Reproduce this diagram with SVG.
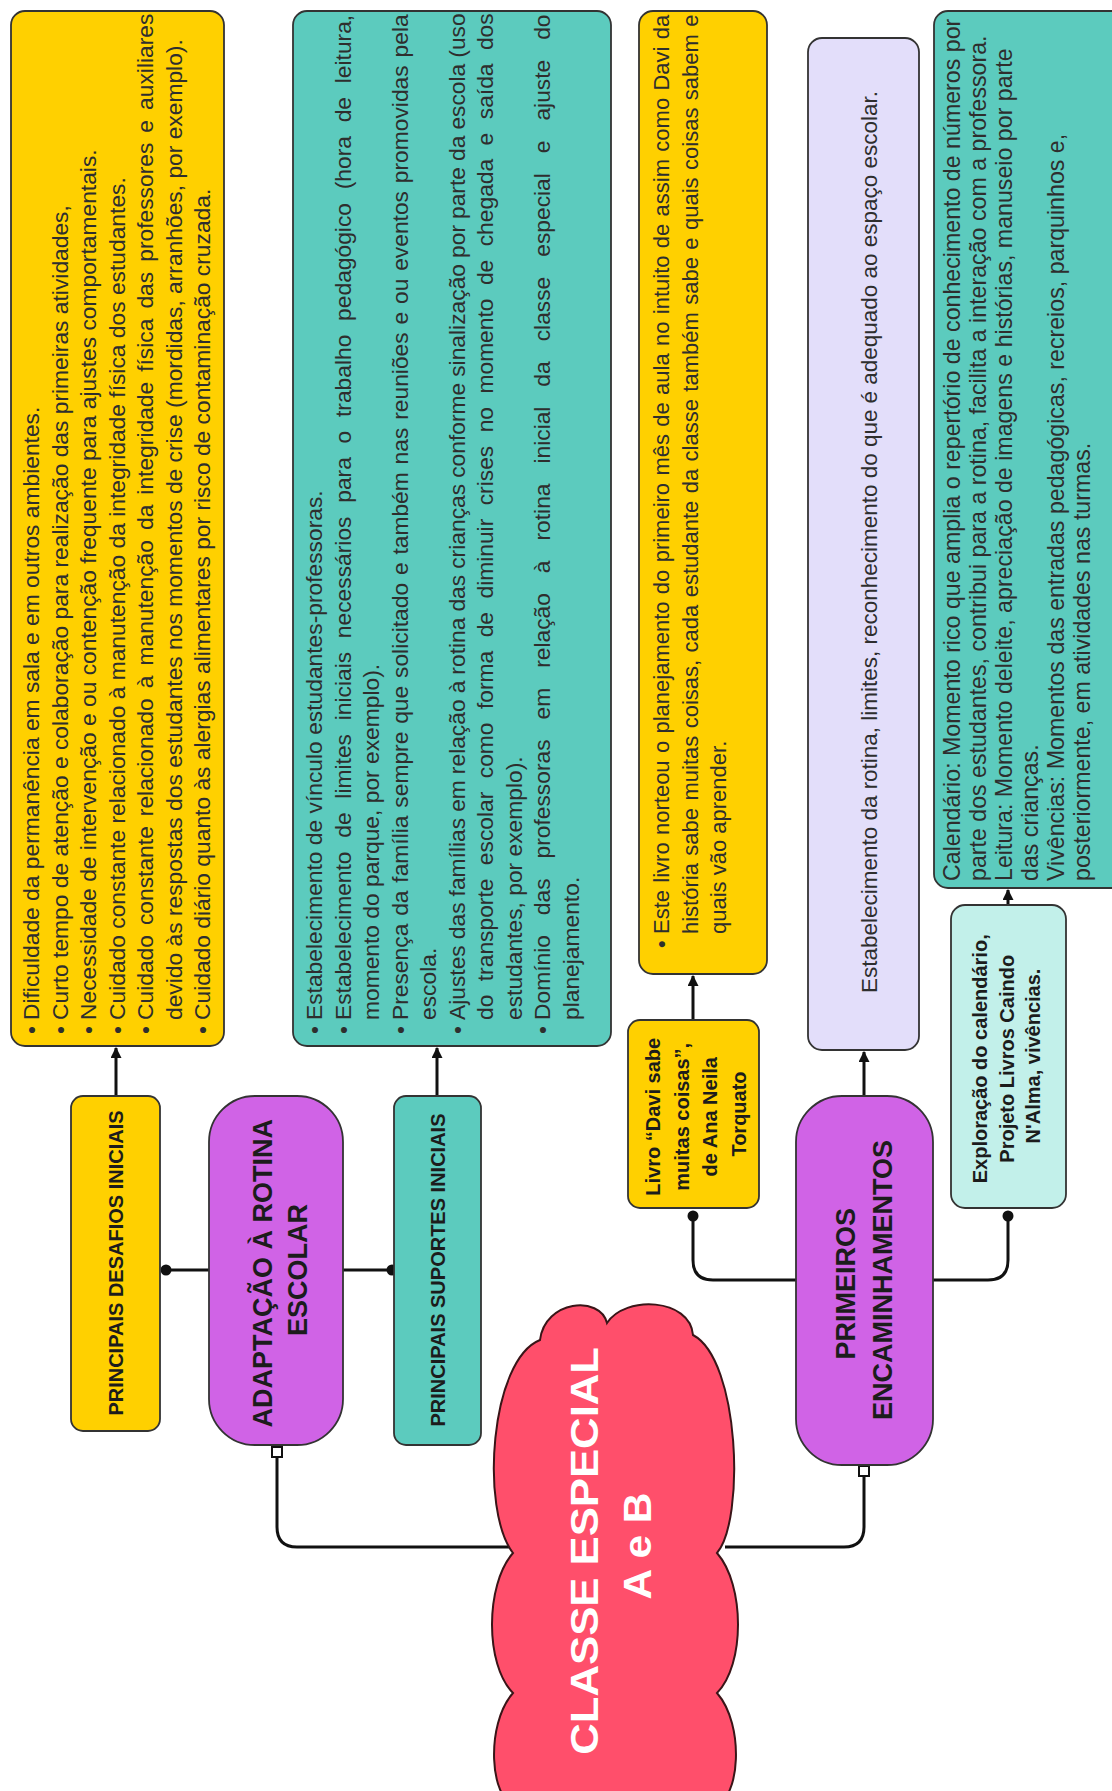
<svg xmlns="http://www.w3.org/2000/svg" width="1112" height="1791" viewBox="0 0 1112 1791">
<defs>
<marker id="arr" viewBox="0 0 10 10" refX="9" refY="5" markerWidth="11" markerHeight="11" markerUnits="userSpaceOnUse" orient="auto"><path d="M0,0 L10,5 L0,10 z" fill="#111"/></marker>
</defs>
<style>
.body{font-family:"Liberation Sans",Arial,sans-serif;font-size:22.8px;fill:#2e2e2e}
.bold{font-family:"Liberation Sans",Arial,sans-serif;font-weight:bold;fill:#1c1c1c}
.box{stroke:#333;stroke-width:1.8}
.yel{fill:#FFD000}
.teal{fill:#5CCBBE}
.lav{fill:#E3DEFA}
.lteal{fill:#C2F0EA}
.purp{fill:#D063E6}
.conn{fill:none;stroke:#111;stroke-width:3}
.dot{fill:#111}
.sq{fill:#fff;stroke:#111;stroke-width:2}
</style>
<rect width="1112" height="1791" fill="#fff"/>

<g id="connectors">
<path class="conn" d="M116,1096 L116,1048" marker-end="url(#arr)"/>
<path class="conn" d="M437,1096 L437,1048" marker-end="url(#arr)"/>
<path class="conn" d="M693,1020 L693,976" marker-end="url(#arr)"/>
<path class="conn" d="M864,1096 L864,1052" marker-end="url(#arr)"/>
<path class="conn" d="M1008,905 L1008,890" marker-end="url(#arr)"/>
<path class="conn" d="M209,1270 L166,1270"/>
<circle class="dot" cx="166" cy="1270" r="5.5"/>
<path class="conn" d="M343,1270 L392,1270"/>
<circle class="dot" cx="392" cy="1270" r="5.5"/>
<path class="conn" d="M510,1547 L297,1547 Q277,1547 277,1527 L277,1457"/>
<rect class="sq" x="272" y="1447" width="10" height="10"/>
<path class="conn" d="M725,1547 L844,1547 Q864,1547 864,1527 L864,1476"/>
<rect class="sq" x="859" y="1466" width="10" height="10"/>
<path class="conn" d="M796,1280 L713,1280 Q693,1280 693,1260 L693,1216"/>
<circle class="dot" cx="693" cy="1216" r="5.5"/>
<path class="conn" d="M933,1280 L988,1280 Q1008,1280 1008,1260 L1008,1216"/>
<circle class="dot" cx="1008" cy="1216" r="5.5"/>
</g>

<g id="desafios-conteudo">
<rect class="box yel" x="11" y="11" width="213" height="1035" rx="14"/>
<text class="body" transform="translate(0,1020) rotate(-90)">
<tspan x="-14" y="39">•</tspan><tspan x="0" y="39">Dificuldade da permanência em sala e em outros ambientes.</tspan>
<tspan x="-14" y="67.5">•</tspan><tspan x="0" y="67.5">Curto tempo de atenção e colaboração para realização das primeiras atividades,</tspan>
<tspan x="-14" y="96">•</tspan><tspan x="0" y="96">Necessidade de intervenção e ou contenção frequente para ajustes comportamentais.</tspan>
<tspan x="-14" y="124.5">•</tspan><tspan x="0" y="124.5">Cuidado constante relacionado à manutenção da integridade física dos estudantes.</tspan>
<tspan x="-14" y="153">•</tspan><tspan x="0" y="153" word-spacing="3.7">Cuidado constante relacionado à manutenção da integridade física das professores e auxiliares</tspan>
<tspan x="0" y="181.5">devido às respostas dos estudantes nos momentos de crise (mordidas, arranhões, por exemplo).</tspan>
<tspan x="-14" y="210">•</tspan><tspan x="0" y="210">Cuidado diário quanto às alergias alimentares por risco de contaminação cruzada.</tspan>
</text>
</g>

<g id="suportes-conteudo">
<rect class="box teal" x="293" y="11" width="318" height="1035" rx="14"/>
<text class="body" transform="translate(0,1020) rotate(-90)">
<tspan x="-14" y="322">•</tspan><tspan x="0" y="322">Estabelecimento de vínculo estudantes-professoras.</tspan>
<tspan x="-14" y="350.5">•</tspan><tspan x="0" y="350.5" word-spacing="7.4">Estabelecimento de limites iniciais necessários para o trabalho pedagógico (hora de leitura,</tspan>
<tspan x="0" y="379">momento do parque, por exemplo).</tspan>
<tspan x="-14" y="407.5">•</tspan><tspan x="0" y="407.5" word-spacing="1.5">Presença da família sempre que solicitado e também nas reuniões e ou eventos promovidas pela</tspan>
<tspan x="0" y="436">escola.</tspan>
<tspan x="-14" y="464.5">•</tspan><tspan x="0" y="464.5" word-spacing="-0.3">Ajustes das famílias em relação à rotina das crianças conforme sinalização por parte da escola (uso</tspan>
<tspan x="0" y="493" word-spacing="7.1">do transporte escolar como forma de diminuir crises no momento de chegada e saída dos</tspan>
<tspan x="0" y="521.5">estudantes, por exemplo).</tspan>
<tspan x="-14" y="550">•</tspan><tspan x="0" y="550" word-spacing="13.6">Domínio das professoras em relação à rotina inicial da classe especial e ajuste do</tspan>
<tspan x="0" y="578.5">planejamento.</tspan>
</text>
</g>

<g id="livro-conteudo">
<rect class="box yel" x="639" y="11" width="128" height="963" rx="14"/>
<text class="body" style="font-size:22px" transform="translate(0,934) rotate(-90)">
<tspan x="-14" y="669">•</tspan><tspan x="0" y="669" word-spacing="1.2">Este livro norteou o planejamento do primeiro mês de aula no intuito de assim como Davi da</tspan>
<tspan x="0" y="697.5" word-spacing="1.3">história sabe muitas coisas, cada estudante da classe também sabe e quais coisas sabem e</tspan>
<tspan x="0" y="726">quais vão aprender.</tspan>
</text>
</g>

<g id="encaminhamentos-conteudo">
<rect class="box lav" x="808" y="38" width="111" height="1012" rx="14"/>
<text class="body" transform="translate(0,993) rotate(-90)" x="0" y="877" textLength="902" lengthAdjust="spacingAndGlyphs">Estabelecimento da rotina, limites, reconhecimento do que é adequado ao espaço escolar.</text>
</g>

<g id="exploracao-conteudo">
<rect class="box teal" x="934" y="11" width="200" height="877" rx="14"/>
<text class="body" style="font-size:23.2px" transform="translate(0,881) rotate(-90)">
<tspan x="0" y="960">Calendário: Momento rico que amplia o repertório de conhecimento de números por</tspan>
<tspan x="0" y="986">parte dos estudantes, contribui para a rotina, facilita a interação com a professora.</tspan>
<tspan x="0" y="1012">Leitura: Momento deleite, apreciação de imagens e histórias, manuseio por parte</tspan>
<tspan x="0" y="1038">das crianças.</tspan>
<tspan x="0" y="1064">Vivências: Momentos das entradas pedagógicas, recreios, parquinhos e,</tspan>
<tspan x="0" y="1090">posteriormente, em atividades nas turmas.</tspan>
</text>
</g>

<g id="principais-desafios">
<rect class="box yel" x="71" y="1096" width="89" height="335" rx="12"/>
<text class="bold" font-size="20" text-anchor="middle" transform="translate(0,1263) rotate(-90)" x="0" y="123">PRINCIPAIS DESAFIOS INICIAIS</text>
</g>

<g id="adaptacao">
<rect class="box purp" x="209" y="1096" width="134" height="349" rx="46"/>
<text class="bold" font-size="27" text-anchor="middle" transform="translate(0,1270) rotate(-90)">
<tspan x="0" y="272">ADAPTAÇÃO À ROTINA</tspan>
<tspan x="0" y="307">ESCOLAR</tspan>
</text>
</g>

<g id="principais-suportes">
<rect class="box teal" x="394" y="1096" width="87" height="349" rx="12"/>
<text class="bold" font-size="20" text-anchor="middle" transform="translate(0,1270) rotate(-90)" x="0" y="445">PRINCIPAIS SUPORTES INICIAIS</text>
</g>

<g id="livro">
<rect class="box yel" x="628" y="1020" width="131" height="188" rx="12"/>
<text class="bold" font-size="20" text-anchor="middle" transform="translate(0,1114) rotate(-90)">
<tspan x="0" y="660">Livro “Davi sabe</tspan>
<tspan x="0" y="689">muitas coisas”,</tspan>
<tspan x="0" y="717">de Ana Neila</tspan>
<tspan x="0" y="746">Torquato</tspan>
</text>
</g>

<g id="primeiros-encaminhamentos">
<rect class="box purp" x="796" y="1096" width="137" height="369" rx="46"/>
<text class="bold" font-size="27" text-anchor="middle" transform="translate(0,1280) rotate(-90)">
<tspan x="0" y="855">PRIMEIROS</tspan>
<tspan x="0" y="892">ENCAMINHAMENTOS</tspan>
</text>
</g>

<g id="exploracao">
<rect class="box lteal" x="951" y="905" width="115" height="303" rx="14"/>
<text class="bold" font-size="20" text-anchor="middle" transform="translate(0,1056) rotate(-90)">
<tspan x="0" y="987">Exploração do calendário,</tspan>
<tspan x="0" y="1014">Projeto Livros Caindo</tspan>
<tspan x="0" y="1040">N'Alma, vivências.</tspan>
</text>
</g>

<g id="classe-especial">
<path fill="#FF4F6B" stroke="#3a1518" stroke-width="2" d="M607,1323 C625,1295 690,1298 693,1335 C740,1360 745,1520 717,1553 C745,1585 745,1665 717,1693 C745,1725 740,1800 715,1805 L515,1805 C490,1800 485,1725 513,1693 C485,1665 485,1585 513,1553 C480,1510 490,1360 540,1340 C545,1300 600,1295 607,1323 Z"/>
<text class="bold" font-size="38" style="fill:#fff" text-anchor="middle" transform="translate(0,1546) rotate(-90)">
<tspan x="0" y="598" textLength="407" lengthAdjust="spacingAndGlyphs">CLASSE ESPECIAL</tspan>
<tspan x="0" y="651" textLength="107" lengthAdjust="spacingAndGlyphs">A e B</tspan>
</text>
</g>
</svg>
